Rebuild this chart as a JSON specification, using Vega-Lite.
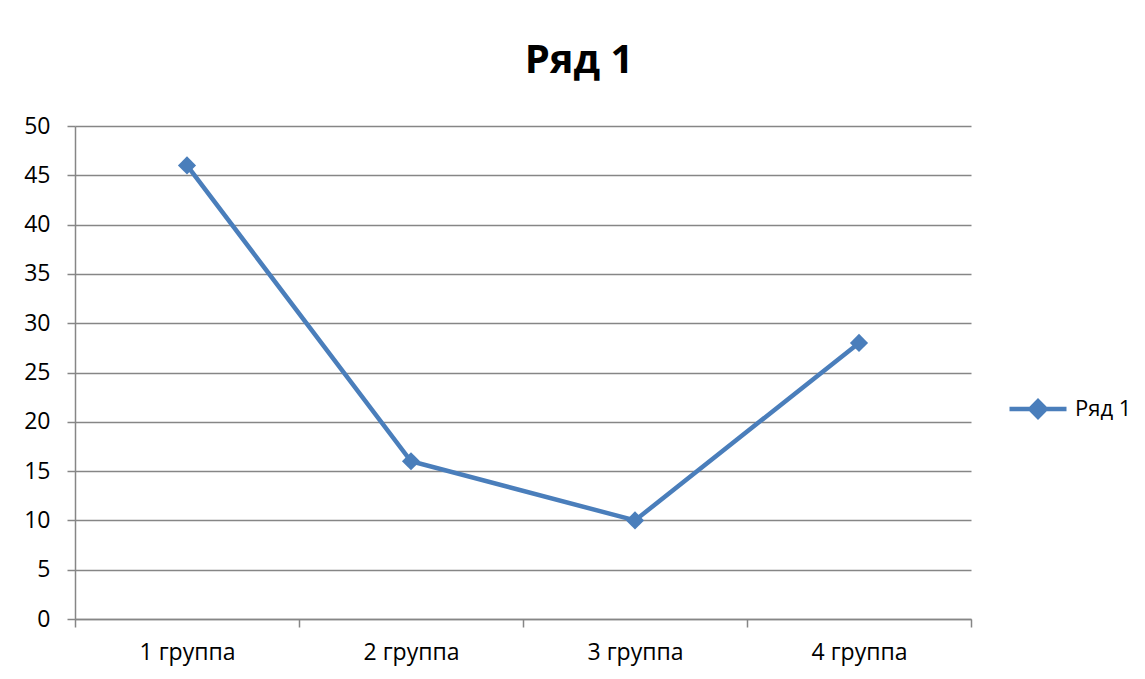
{
  "$schema": "https://vega.github.io/schema/vega-lite/v6.json",
  "width": 896,
  "height": 493,
  "autosize": "none",
  "padding": {"left": 75, "top": 126, "right": 174, "bottom": 60},
  "background": "white",
  "title": {
    "text": "Ряд 1",
    "font": "Open Sans",
    "fontSize": 40,
    "fontWeight": "bold",
    "color": "#000000",
    "anchor": "middle",
    "dx": 56,
    "offset": 34
  },
  "data": {
    "values": [
      {"group": "1 группа", "series": "Ряд 1", "value": 46},
      {"group": "2 группа", "series": "Ряд 1", "value": 16},
      {"group": "3 группа", "series": "Ряд 1", "value": 10},
      {"group": "4 группа", "series": "Ряд 1", "value": 28}
    ]
  },
  "mark": {"type": "line", "strokeWidth": 4.5, "point": {"shape": "diamond", "size": 330, "filled": true, "opacity": 1}},
  "encoding": {
    "x": {
      "field": "group",
      "type": "nominal",
      "sort": null,
      "scale": {"paddingInner": 0, "paddingOuter": 0},
      "axis": {
        "title": null,
        "labelAngle": 0,
        "tickBand": "extent",
        "tickSize": 8,
        "tickColor": "#868686",
        "domainColor": "#868686",
        "domainWidth": 1.5,
        "tickWidth": 1.5,
        "labelFont": "Open Sans",
        "labelFontSize": 23,
        "labelColor": "#000000",
        "labelPadding": 14,
        "grid": false
      }
    },
    "y": {
      "field": "value",
      "type": "quantitative",
      "scale": {"domain": [0, 50], "nice": false},
      "axis": {
        "title": null,
        "values": [0, 5, 10, 15, 20, 25, 30, 35, 40, 45, 50],
        "tickSize": 8,
        "tickColor": "#868686",
        "domainColor": "#868686",
        "domainWidth": 1.5,
        "tickWidth": 1.5,
        "gridColor": "#868686",
        "gridWidth": 1.5,
        "labelFont": "Open Sans",
        "labelFontSize": 23,
        "labelColor": "#000000",
        "labelPadding": 17
      }
    },
    "color": {
      "field": "series",
      "type": "nominal",
      "scale": {"range": ["#4A7EBB"]},
      "legend": {
        "title": null,
        "orient": "none",
        "legendX": 932,
        "legendY": 252,
        "symbolType": "M-1,0H1M-0.27,0L0,-0.27L0.27,0L0,0.27Z",
        "symbolFillColor": "#4A7EBB",
        "symbolStrokeColor": "#4A7EBB",
        "symbolOpacity": 1,
        "labelFont": "Open Sans",
        "labelFontSize": 22,
        "labelColor": "#000000",
        "symbolSize": 3249,
        "symbolStrokeWidth": 4.5,
        "labelOffset": 6
      }
    }
  },
  "config": {
    "view": {"stroke": null}
  }
}
